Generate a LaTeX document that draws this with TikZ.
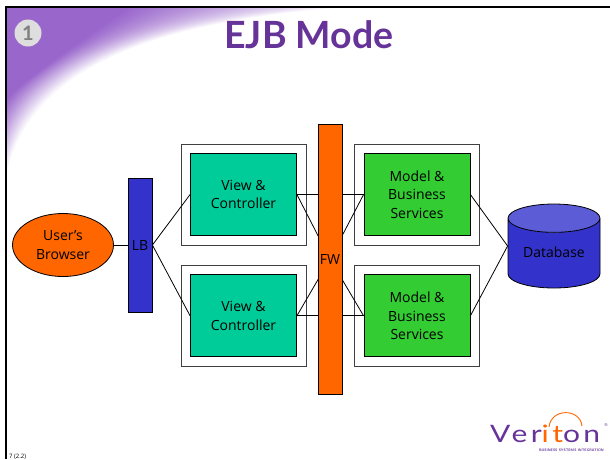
\documentclass[tikz,border=0pt]{standalone}
\usepackage{fontspec}
\setmainfont{Open Sans}
\newfontfamily\titlefont{Lato}
\usetikzlibrary{positioning}
\usetikzlibrary{shapes.geometric}
\usetikzlibrary{backgrounds}
\definecolor{slidepurple}{HTML}{9966CC}
\definecolor{darkpurple}{HTML}{663399}
\definecolor{tealbox}{HTML}{00CC99}
\definecolor{greenbox}{HTML}{33CC33}
\definecolor{bluebox}{HTML}{3333CC}
\definecolor{orangebox}{HTML}{FF6600}
\definecolor{dbtop}{HTML}{5C5CD6}
\begin{document}
\begin{tikzpicture}[x=1pt, y=-1pt,
    label/.style={font=\fontsize{14}{18.5}\selectfont, align=center, text=black},
    inner/.style={label, rectangle, draw=black, line width=0.8pt, minimum width=106pt, minimum height=82pt, inner sep=0pt},
    outer/.style={rectangle, draw=black!75, fill=white, line width=0.9pt, minimum width=125pt, minimum height=101pt, inner sep=0pt},
    bar/.style={label, rectangle, draw=black, line width=0.8pt, minimum width=24pt, inner sep=0pt},
    wire/.style={draw=black, line width=0.8pt}
]
    \useasboundingbox (0,0) rectangle (610,459);

    % corner shading
    \begin{scope}
        \clip (6,7) rectangle (610,459);
        \foreach \k in {0,2,...,100} {
            \pgfmathsetmacro{\t}{\k/100}
            \pgfmathsetmacro{\ya}{178-78*\t}
            \pgfmathsetmacro{\xb}{370-240*\t}
            \pgfmathsetmacro{\xa}{25-5*\t}
            \pgfmathsetmacro{\yd}{85-3*\t}
            \pgfmathsetmacro{\xc}{120-51*\t}
            \pgfmathsetmacro{\yc}{20+30*\t}
            \fill[slidepurple!\k!white] (6,\ya) .. controls (\xa,\yd) and (\xc,\yc) .. (\xb,6) -- (6,6) -- cycle;
        }
    \end{scope}
    \draw[black, line width=2pt] (6,459) -- (6,7) -- (610,7);

    \node[circle, fill=black!13, minimum size=27pt, inner sep=0pt, font=\titlefont\bfseries\fontsize{20}{20}\selectfont, text=black!50] (num) at (28,33) {1};
    \node[font=\titlefont\bfseries\fontsize{37.5}{37.5}\selectfont, text=darkpurple] (title) at (309,35) {EJB Mode};

    \node[label, ellipse, draw=black, fill=orangebox, line width=0.8pt, minimum width=101pt, minimum height=63pt, inner sep=0pt] (browser) at (63,245) {\raisebox{-1pt}{User's}\\\raisebox{-1pt}{Browser}};
    \node[bar, fill=bluebox, minimum height=134pt] (LB) at (140,245) {LB};

    \node[inner, fill=tealbox] (V1) at (243.5,194.5) {View \&\\Controller};
    \node[inner, fill=tealbox] (V2) [below=38.5pt of V1] {View \&\\Controller};

    \node[bar, fill=orangebox, minimum height=270pt] (FW) at (330,259) {FW};

    \node[inner, fill=greenbox] (M1) at (417,194.5) {Model \&\\Business\\Services};
    \node[inner, fill=greenbox] (M2) [below=38.5pt of M1] {Model \&\\Business\\Services};

    \node[label, cylinder, shape border rotate=90, aspect=0.46, draw=black, line width=0.8pt, cylinder uses custom fill, cylinder body fill=bluebox, cylinder end fill=dbtop, minimum width=92pt, minimum height=84pt, inner sep=0pt, anchor=shape center] (DB) at (554,246) {\raisebox{2pt}{Database}};

    \begin{pgfonlayer}{background}
        \node[outer] (O1) at (V1) {};
        \node[outer] (O2) at (V2) {};
        \node[outer] (O3) at (M1) {};
        \node[outer] (O4) at (M2) {};

        \draw[wire] (browser.east) -- (LB.west);
        \draw[wire] (LB.east) -- (V1.west);
        \draw[wire] (LB.east) -- (V2.west);
        \draw[wire] (V1.east) -- (M1.west);
        \draw[wire] (V2.east) -- (M2.west);
        \draw[wire] (V1.east) -- (FW.center);
        \draw[wire] (V2.east) -- (FW.center);
        \draw[wire] (M1.west) -- (FW.center);
        \draw[wire] (M2.west) -- (FW.center);
        \draw[wire] (M1.east) -- (DB.west |- DB.shape center);
        \draw[wire] (M2.east) -- (DB.west |- DB.shape center);
    \end{pgfonlayer}

    % logo
    \node[anchor=base west, inner sep=0pt, font=\titlefont\fontsize{24}{24}\selectfont\addfontfeature{FakeStretch=1.25,LetterSpace=14}, text=darkpurple] (logo) at (490,442) {Ver\textcolor{orangebox}{it}on};
    \draw[orangebox, line width=0.9pt] (549,427) .. controls (551,408) and (580,408) .. (582,426);
    \node[anchor=base east, inner sep=0pt, font=\sffamily\bfseries\fontsize{3.6}{4}\selectfont\addfontfeature{LetterSpace=58}, text=darkpurple] (tagline) at (604,451) {BUSINESS SYSTEMS INTEGRATION};
    \node[inner sep=0pt, font=\fontsize{4}{4}\selectfont, text=darkpurple] (reg) at (606,425.5) {®};

    \node[anchor=base west, inner sep=0pt, font=\fontsize{6}{6}\selectfont] (page) at (9,458) {7 (2.2)};
\end{tikzpicture}
\end{document}
